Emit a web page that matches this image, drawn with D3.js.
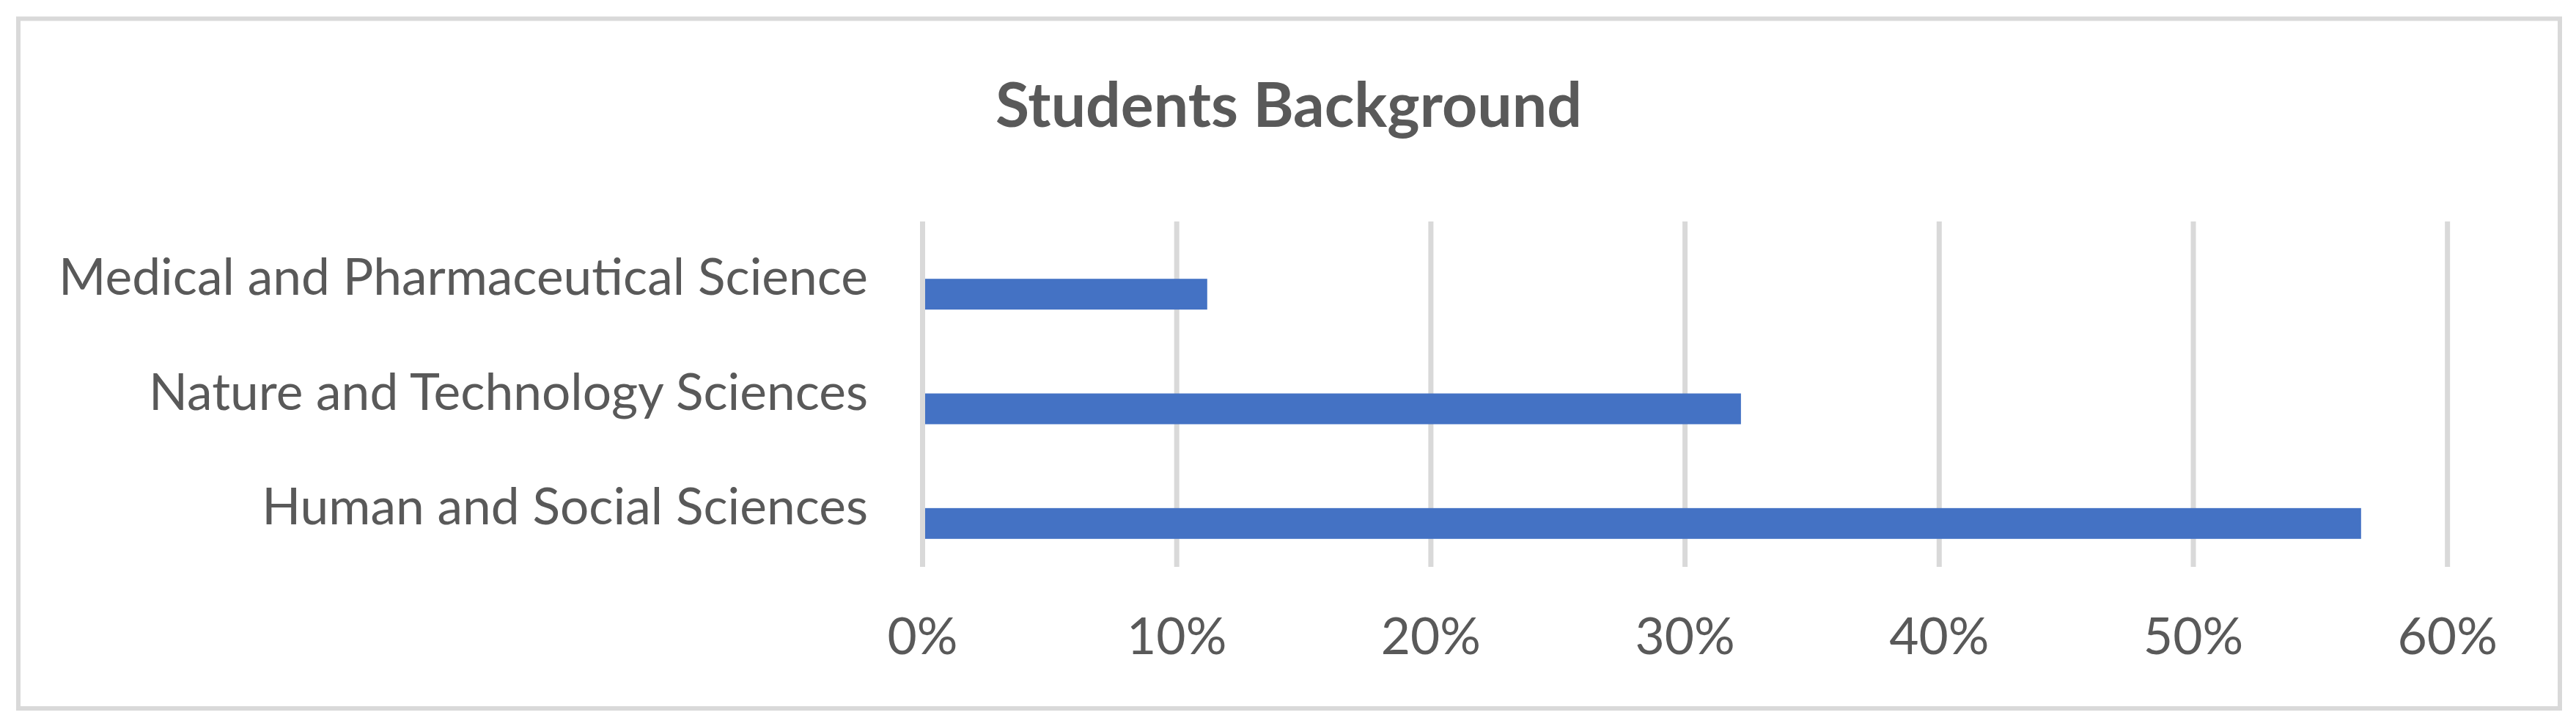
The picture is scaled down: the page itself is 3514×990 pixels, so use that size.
<!DOCTYPE html>
<html>
<head>
<meta charset="utf-8">
<script src="https://cdn.jsdelivr.net/npm/d3@7"></script>
<style>
  html, body { margin: 0; padding: 0; background: #ffffff; }
  svg { display: block; }
</style>
</head>
<body>
<script>
// ---- Data ----
const title = "Students Background";
const categories = ["Medical and Pharmaceutical Science", "Nature and Technology Sciences", "Human and Social Sciences"];
const values = [0.112, 0.322, 0.566];
const ticks = [0, 0.1, 0.2, 0.3, 0.4, 0.5, 0.6];

// ---- Layout ----
const W = 3514, H = 990;
const font = "Lato, 'Open Sans', sans-serif";
const textColor = "#595959";
const gridColor = "#d9d9d9";
const barColor = "#4472c4";

const svg = d3.select("body").append("svg")
  .attr("width", W).attr("height", H);

svg.append("rect").attr("width", W).attr("height", H).attr("fill", "#ffffff");

// chart border
svg.append("rect")
  .attr("x", 25).attr("y", 25.5)
  .attr("width", 3467).attr("height", 940.5)
  .attr("fill", "none")
  .attr("stroke", gridColor)
  .attr("stroke-width", 6);

const x = d3.scaleLinear().domain([0, 0.6]).range([1258.5, 3338.7]);
const y = d3.scaleBand().domain(categories).range([323, 792])
  .paddingInner(0.7316).paddingOuter(0.3658);

const gridTop = 302, gridBottom = 773;

// gridlines
svg.append("g").selectAll("line").data(ticks).join("line")
  .attr("x1", d => x(d)).attr("x2", d => x(d))
  .attr("y1", gridTop).attr("y2", gridBottom)
  .attr("stroke", gridColor).attr("stroke-width", 7);

// bars
svg.append("g").selectAll("rect").data(values).join("rect")
  .attr("x", x(0))
  .attr("y", (d, i) => y(categories[i]))
  .attr("width", d => x(d) - x(0))
  .attr("height", y.bandwidth())
  .attr("fill", barColor);

// zero line on top
svg.append("line")
  .attr("x1", x(0)).attr("x2", x(0))
  .attr("y1", gridTop).attr("y2", gridBottom)
  .attr("stroke", gridColor).attr("stroke-width", 7);

// category labels
const catLabels = svg.append("g").selectAll("text").data(categories).join("text")
  .attr("x", 1184)
  .attr("y", d => y(d) + y.bandwidth() / 2 + 1)
  .attr("text-anchor", "end")
  .attr("font-family", font)
  .attr("font-size", 66)
  .attr("fill", textColor)
  .text(d => d);

// tick labels
const tickLabels = svg.append("g").selectAll("text").data(ticks).join("text")
  .attr("x", d => x(d))
  .attr("y", 892)
  .attr("text-anchor", "middle")
  .attr("font-family", font)
  .attr("font-size", 66)
  .attr("fill", textColor)
  .text(d => d3.format(".0%")(d));

// title
const titleText = svg.append("text")
  .attr("x", 1758)
  .attr("y", 173)
  .attr("text-anchor", "middle")
  .attr("font-family", font)
  .attr("font-weight", "bold")
  .attr("font-size", 84)
  .attr("fill", textColor)
  .text(title);

// fit font sizes to the reference text widths
const medW = catLabels.filter((d, i) => i === 0).node().getComputedTextLength();
const catSize = 66 * 1104 / medW;
catLabels.attr("font-size", catSize);
tickLabels.attr("font-size", catSize);
const tW = titleText.node().getComputedTextLength();
titleText.attr("font-size", 84 * 800 / tW);
</script>
</body>
</html>
